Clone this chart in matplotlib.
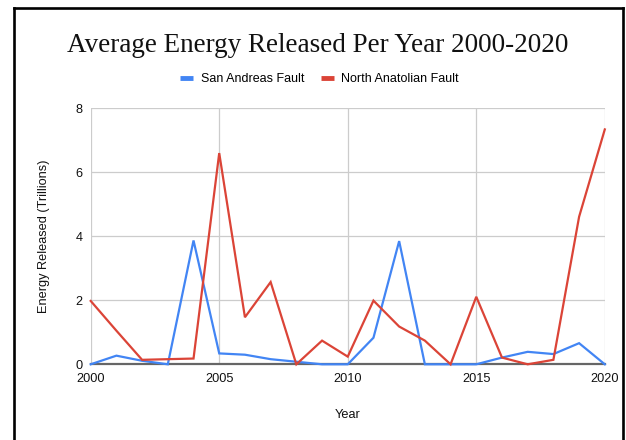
import matplotlib
matplotlib.use("Agg")
import matplotlib.pyplot as plt
from matplotlib.lines import Line2D

years = list(range(2000, 2021))
san_andreas = [0.0, 0.27, 0.11, 0.0, 3.87, 0.34, 0.30, 0.16, 0.08, 0.0, 0.0,
               0.83, 3.85, 0.0, 0.0, 0.0, 0.21, 0.39, 0.32, 0.66, 0.0]
north_anatolian = [1.98, 1.05, 0.14, 0.16, 0.18, 6.60, 1.47, 2.57, 0.0, 0.74, 0.24,
                   1.99, 1.18, 0.74, 0.0, 2.11, 0.21, 0.0, 0.14, 4.61, 7.34]
series_names = ["San Andreas Fault", "North Anatolian Fault"]
x_ticks = [2000, 2005, 2010, 2015, 2020]
y_ticks = [0, 2, 4, 6, 8]

BLUE = "#4285F4"
RED = "#DB4437"
TXT = "#111111"
W, H = 626, 440

fig = plt.figure(figsize=(W / 100, H / 100), dpi=100)
ax = fig.add_axes([90.7 / W, 1 - 364.3 / H, (604.8 - 90.7) / W, (364.3 - 108.3) / H])

ax.plot(years, san_andreas, color=BLUE, lw=1.6, solid_joinstyle="miter", zorder=3, clip_on=False)
ax.plot(years, north_anatolian, color=RED, lw=1.6, solid_joinstyle="miter", zorder=3, clip_on=False)

ax.set_xlim(2000, 2020)
ax.set_ylim(0, 8)
ax.set_xticks(x_ticks)
ax.set_yticks(y_ticks)
ax.grid(True, color="#cccccc", lw=0.9)
ax.set_axisbelow(True)
for s in ("left", "right", "top"):
    ax.spines[s].set_visible(False)
ax.spines["bottom"].set_color("#666666")
ax.spines["bottom"].set_linewidth(1.6)
ax.spines["bottom"].set_zorder(2)
ax.tick_params(length=0, labelsize=9.2, colors=TXT)
ax.tick_params(axis="x", pad=6.5)
ax.tick_params(axis="y", pad=6)
for lbl in ax.get_xticklabels() + ax.get_yticklabels():
    lbl.set_fontfamily("Liberation Sans")

ax.set_xlabel("Year", fontsize=9.2, family="Liberation Sans", color=TXT, labelpad=17)
ax.set_ylabel("Energy Released (Trillions)", fontsize=9.2, family="Liberation Sans",
              color=TXT, labelpad=18)

fig.text(318 / W, 1 - 45 / H, "Average Energy Released Per Year 2000-2020",
         ha="center", va="center", fontsize=19.5, family="Liberation Serif", color=TXT)

handles = [Line2D([], [], color=BLUE, lw=3.5, solid_capstyle="butt"),
           Line2D([], [], color=RED, lw=3.5, solid_capstyle="butt")]
fig.legend(handles, series_names, loc="center", bbox_to_anchor=(319.5 / W, 1 - 79 / H),
           ncol=2, frameon=False, prop={"family": "Liberation Sans", "size": 9},
           handlelength=1.05, handletextpad=0.6, columnspacing=1.3, borderpad=0)

# black frame around the chart
frame_kw = dict(color="black", lw=1.9, transform=None, solid_capstyle="projecting")
fig.add_artist(Line2D([13.5, 13.5], [-5, H - 7.7], **frame_kw))
fig.add_artist(Line2D([13.5, 623.2], [H - 7.7, H - 7.7], **frame_kw))
fig.add_artist(Line2D([623.2, 623.2], [H - 7.7, -5], **frame_kw))

fig.savefig("out.png", dpi=100)
